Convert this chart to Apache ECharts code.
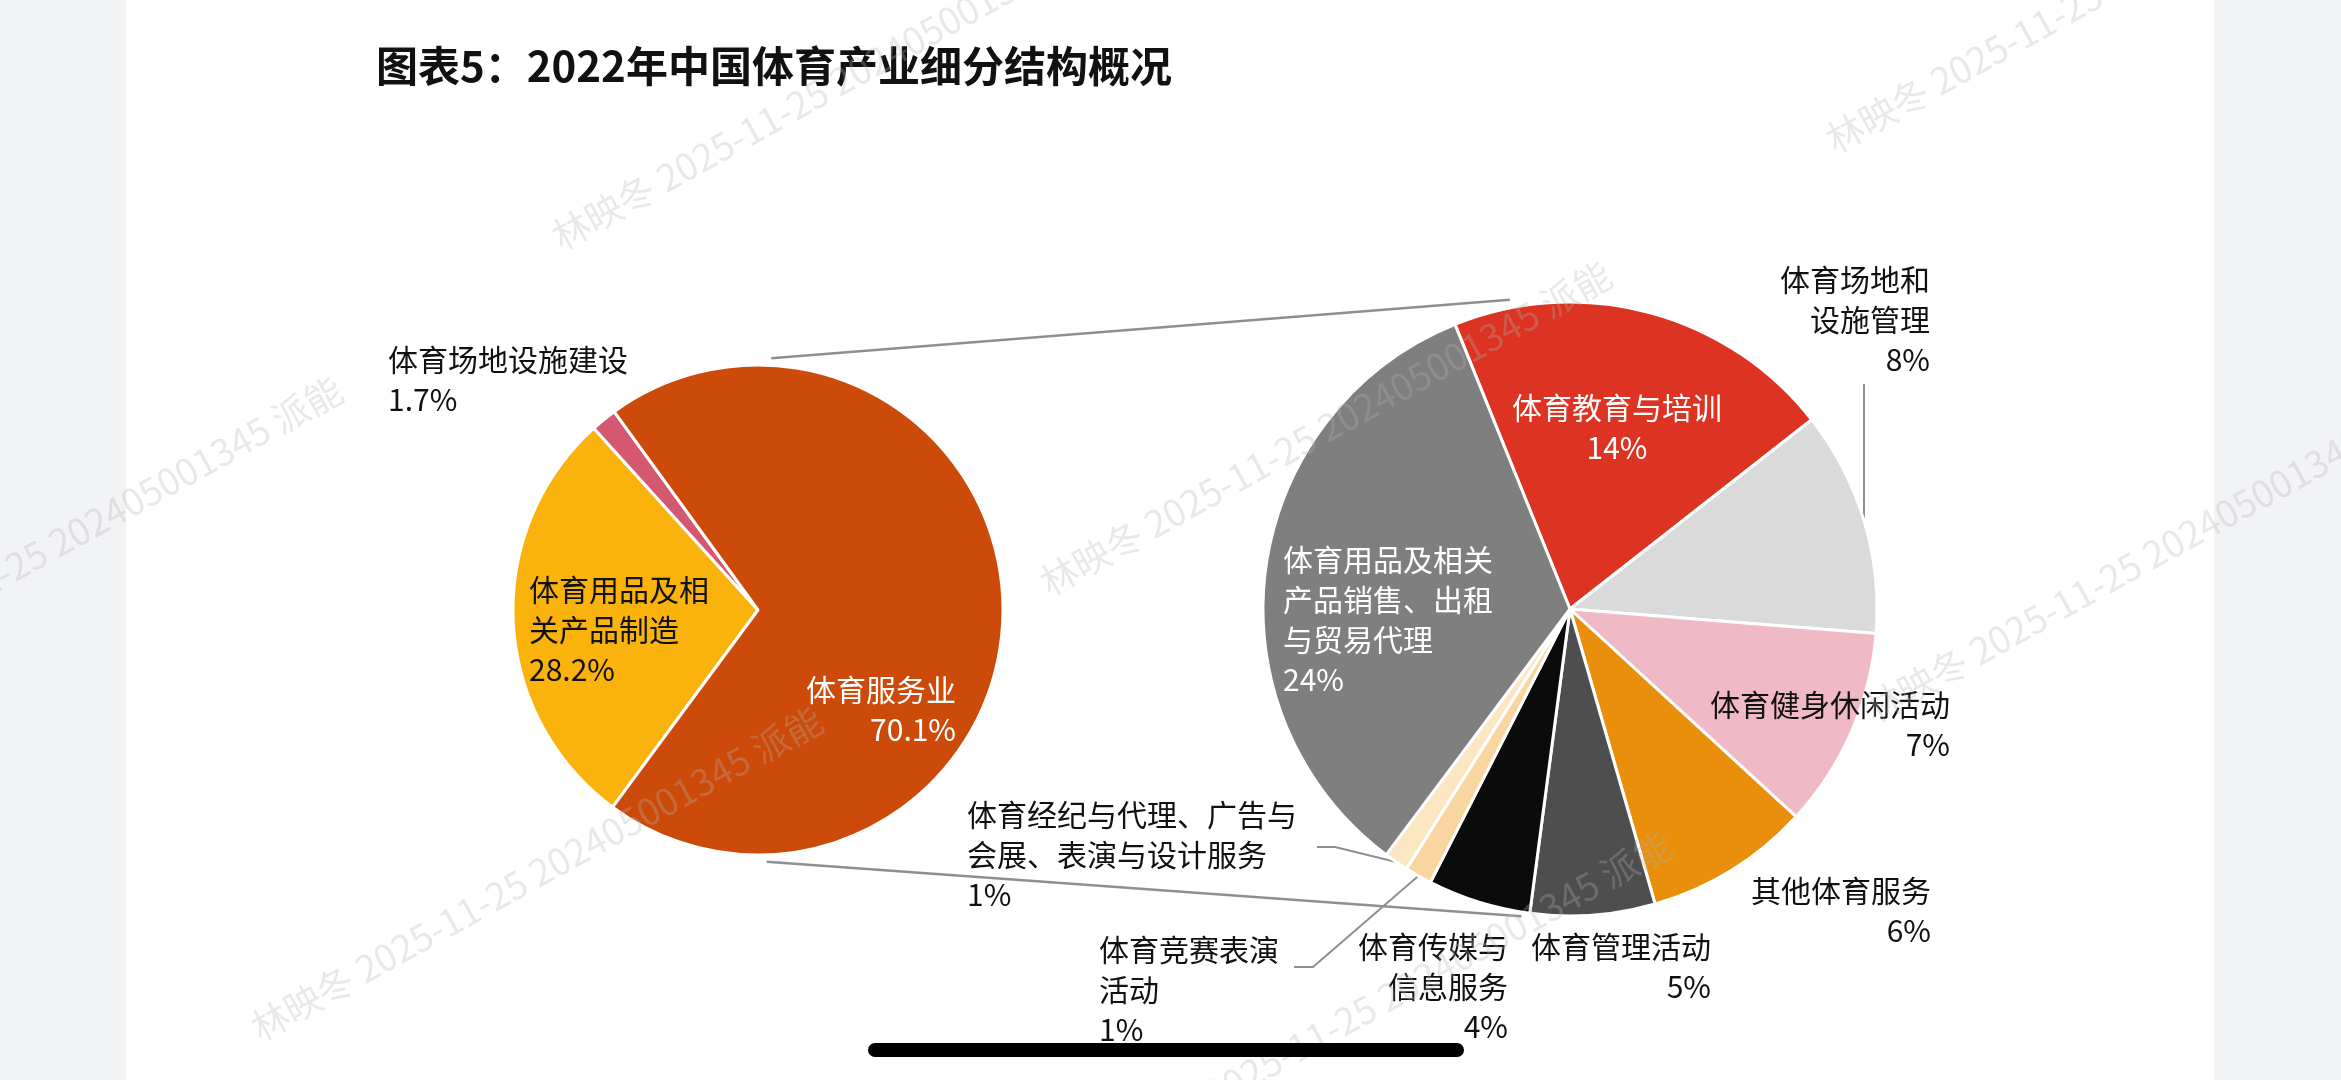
<!DOCTYPE html>
<html>
<head>
<meta charset="utf-8">
<title>图表5：2022年中国体育产业细分结构概况</title>
<script src="https://cdn.jsdelivr.net/npm/echarts@6/dist/echarts.min.js"></script>
<style>
  html, body { margin: 0; padding: 0; background: #fff; }
  #chart { width: 2341px; height: 1080px; }
</style>
</head>
<body>
<div id="chart"></div>
<script>
const titleText = '图表5：2022年中国体育产业细分结构概况'

// 体育产业一级分类（占增加值比重，%）
const industryNames = ['体育用品及相关产品制造', '体育场地设施建设', '体育服务业']
const industryLabelNames = ['体育用品及相\n关产品制造', '体育场地设施建设', '体育服务业']
const industryValues = [28.2, 1.7, 70.1]

// 体育服务业细分（占全产业比重，%）
const serviceNames = [
  '体育教育与培训',
  '体育场地和设施管理',
  '体育健身休闲活动',
  '其他体育服务',
  '体育管理活动',
  '体育传媒与信息服务',
  '体育竞赛表演活动',
  '体育经纪与代理、广告与会展、表演与设计服务',
  '体育用品及相关产品销售、出租与贸易代理'
]
const serviceLabelNames = [
  '体育教育与培训',
  '体育场地和\n设施管理',
  '体育健身休闲活动',
  '其他体育服务',
  '体育管理活动',
  '体育传媒与\n信息服务',
  '体育竞赛表演\n活动',
  '体育经纪与代理、广告与\n会展、表演与设计服务',
  '体育用品及相关\n产品销售、出租\n与贸易代理'
]
const serviceValues = [14.4, 8.3, 7.4, 6.1, 4.6, 3.8, 1.0, 0.9, 23.6]

const watermarkText = '林映冬 2025-11-25 202405001345 派能'

// 样式
const FONT = 'Noto Sans CJK SC'
const industryColors = ['#fab30c', '#d4586f', '#cd4b0a']
const industryTextColors = ['#111', '#111', '#fff']
const serviceColors = ['#dc3322', '#dadada', '#efb9c5', '#e98f0c', '#4e4e4e', '#0b0b0b', '#f9d59f', '#fde7c3', '#7f7f7f']
const serviceTextColors = ['#fff', '#111', '#111', '#111', '#111', '#111', '#111', '#111', '#fff']

const leftCenter = [758, 610]
const leftR = 245
const leftStart = 233.6
const rightCenter = [1570, 609]
const rightR = 307
const rightStart = 112
const LINE_H = 40

// 标签位置：x, 首行中心 y, 对齐方式
const industryLabelPos = [
  { x: 529, y: 590, align: 'left' },
  { x: 388, y: 360, align: 'left' },
  { x: 956, y: 690, align: 'right' }
]
const serviceLabelPos = [
  { x: 1617, y: 408, align: 'center' },
  { x: 1930, y: 280, align: 'right' },
  { x: 1950, y: 705, align: 'right' },
  { x: 1931, y: 891, align: 'right' },
  { x: 1711, y: 947, align: 'right' },
  { x: 1508, y: 947, align: 'right' },
  { x: 1099, y: 950, align: 'left' },
  { x: 967, y: 815, align: 'left' },
  { x: 1283, y: 560, align: 'left' }
]

const rad = d => d * Math.PI / 180

const midAngles = (values, start) => {
  const total = values.reduce((a, b) => a + b, 0)
  let a = start
  return values.map(v => {
    const span = v / total * 360
    const mid = a - span / 2
    a -= span
    return mid
  })
}

const edgePoint = (center, r, deg) => [
  center[0] + r * Math.cos(rad(deg)),
  center[1] - r * Math.sin(rad(deg))
]

const serviceMids = midAngles(serviceValues, rightStart)

// 引导线（从扇区边缘到标签）
const serviceLeaders = {
  1: p => [p, [p[0], 450], [p[0], 384]],
  6: p => [p, [1313, 967], [1294, 967]],
  7: p => [p, [1335, 847], [1317, 847]]
}

const placeLabel = (pos, text) => {
  const lines = text.split('\n').length
  return {
    x: pos.x,
    y: pos.y + (lines - 1) * LINE_H / 2,
    align: pos.align,
    verticalAlign: 'middle'
  }
}

const chart = echarts.init(document.getElementById('chart'))

const industryLabelText = i => industryLabelNames[i] + '\n' + industryValues[i].toFixed(1) + '%'
const serviceLabelText = i => serviceLabelNames[i] + '\n' + Math.round(serviceValues[i]) + '%'

// 水印（斜向半透明文字）
const watermarks = [
  [555, 239], [1829, 142], [254, 1030], [1043, 585],
  [1868, 712], [1103, 1155], [-226, 700]
].map(p => ({
  type: 'text',
  x: p[0],
  y: p[1],
  rotation: rad(29),
  z: 100,
  silent: true,
  style: {
    text: watermarkText,
    fontSize: 37,
    fontFamily: FONT,
    fill: 'rgba(180,180,180,0.3)',
    verticalAlign: 'middle'
  }
}))

const connectors = [
  [edgePoint(leftCenter, leftR + 7, 87), edgePoint(rightCenter, rightR + 8, 101)],
  [edgePoint(leftCenter, leftR + 7, -88), edgePoint(rightCenter, rightR + 4, -99)]
].map(([a, b]) => ({
  type: 'line',
  z: 1,
  silent: true,
  shape: { x1: a[0], y1: a[1], x2: b[0], y2: b[1] },
  style: { stroke: '#8f8f8f', lineWidth: 2.5 }
}))

const option = {
  backgroundColor: '#fff',
  animation: false,
  title: {
    text: titleText,
    left: 376,
    top: 43,
    padding: 0,
    textStyle: {
      fontFamily: FONT,
      fontSize: 42,
      fontWeight: 'bold',
      color: '#111',
      lineHeight: 46
    }
  },
  graphic: [
    { type: 'rect', z: -1, silent: true, shape: { x: 0, y: 0, width: 126, height: 1080 }, style: { fill: '#f2f3f5' } },
    { type: 'rect', z: -1, silent: true, shape: { x: 2214, y: 0, width: 127, height: 1080 }, style: { fill: '#f2f3f5' } },
    ...connectors,
    ...watermarks,
    { type: 'rect', z: 101, silent: true, shape: { x: 868, y: 1043, width: 596, height: 14, r: 7 }, style: { fill: '#000' } }
  ],
  series: [
    {
      type: 'pie',
      center: leftCenter,
      radius: leftR,
      startAngle: leftStart,
      clockwise: true,
      avoidLabelOverlap: false,
      silent: true,
      itemStyle: { borderColor: '#fff', borderWidth: 3 },
      label: {
        show: true,
        position: 'outside',
        fontFamily: FONT,
        fontSize: 30,
        lineHeight: LINE_H,
        formatter: p => industryLabelText(p.dataIndex)
      },
      labelLine: { show: false },
      labelLayout: p => placeLabel(industryLabelPos[p.dataIndex], industryLabelText(p.dataIndex)),
      data: industryNames.map((name, i) => ({
        name,
        value: industryValues[i],
        itemStyle: { color: industryColors[i] },
        label: { color: industryTextColors[i] }
      }))
    },
    {
      type: 'pie',
      center: rightCenter,
      radius: rightR,
      startAngle: rightStart,
      clockwise: true,
      avoidLabelOverlap: false,
      silent: true,
      itemStyle: { borderColor: '#fff', borderWidth: 3 },
      label: {
        show: true,
        position: 'outside',
        fontFamily: FONT,
        fontSize: 30,
        lineHeight: LINE_H,
        formatter: p => serviceLabelText(p.dataIndex)
      },
      labelLine: {
        show: true,
        lineStyle: { color: '#8f8f8f', width: 2 }
      },
      labelLayout: p => {
        const i = p.dataIndex
        const res = placeLabel(serviceLabelPos[i], serviceLabelText(i))
        if (serviceLeaders[i]) {
          res.labelLinePoints = serviceLeaders[i](edgePoint(rightCenter, rightR, serviceMids[i]))
        }
        return res
      },
      data: serviceNames.map((name, i) => ({
        name,
        value: serviceValues[i],
        itemStyle: { color: serviceColors[i] },
        label: { color: serviceTextColors[i] },
        labelLine: { show: !!serviceLeaders[i] }
      }))
    }
  ]
}

chart.setOption(option)

window.addEventListener('resize', () => chart.resize())
</script>
</body>
</html>
